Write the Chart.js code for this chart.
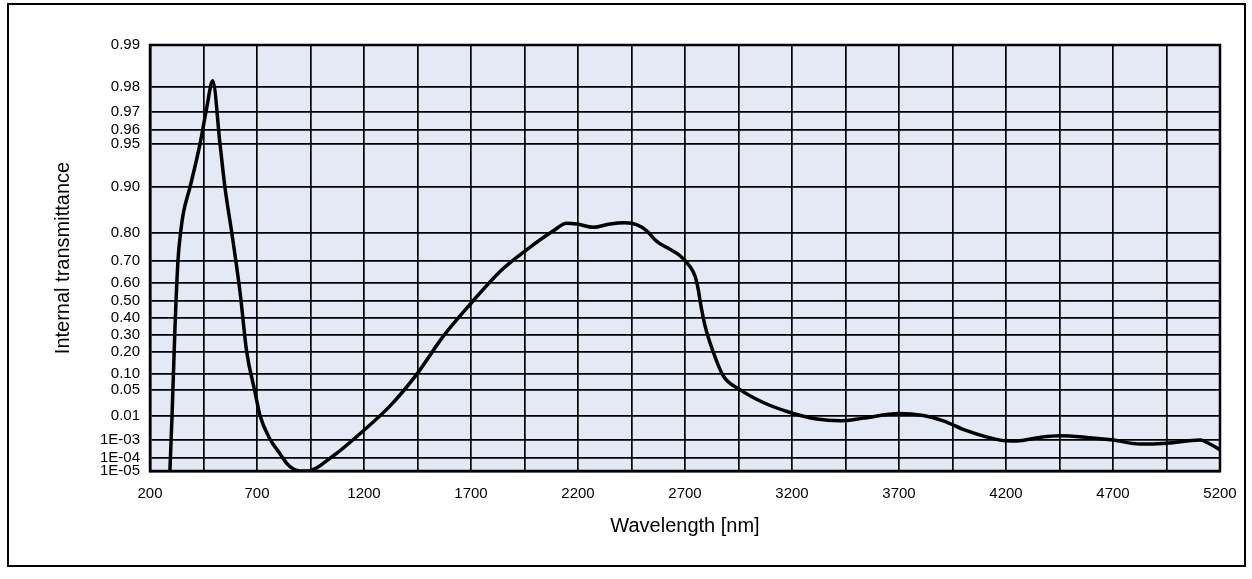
<!DOCTYPE html>
<html>
<head>
<meta charset="utf-8">
<script src="https://cdn.jsdelivr.net/npm/chart.js@4.4.1/dist/chart.umd.min.js"></script>
<style>
  html, body { margin: 0; padding: 0; background: #ffffff; }
  #wrap { position: relative; width: 1252px; height: 579px; }
  canvas { display: block; }
</style>
</head>
<body>
<div id="wrap"><canvas id="c" width="1252" height="579"></canvas></div>
<script>
// ---- data ----
const wavelengths = [293, 303, 317, 331, 343, 356, 387, 434, 465, 493, 527, 550, 582, 621, 652, 691, 714, 761, 808, 840, 870, 901, 932,
  1057, 1197, 1322, 1446, 1571, 1695, 1836, 1960, 2085, 2147, 2194, 2272, 2350, 2420, 2474, 2521, 2568, 2615, 2677,
  2723, 2747, 2762, 2772, 2794, 2832, 2879, 2957, 3066, 3191, 3316, 3424, 3533, 3697, 3814, 3907, 4016, 4172, 4250,
  4359, 4452, 4577, 4702, 4826, 4951, 5107, 5153, 5200];
const transmittance = [1e-5, 0.01, 0.35, 0.705, 0.80, 0.851, 0.90, 0.95, 0.972, 0.982, 0.95, 0.90, 0.80, 0.547, 0.20, 0.0436, 0.01, 1.1e-3, 1.7e-4, 3.8e-5, 1.46e-5, 1e-5, 1e-5,
  1.3e-4, 2.7e-3, 0.0198, 0.0975, 0.29, 0.48, 0.654, 0.743, 0.805, 0.826, 0.824, 0.815, 0.824, 0.827, 0.822, 0.805, 0.772, 0.751, 0.7206,
  0.676, 0.631, 0.5635, 0.49, 0.35, 0.20, 0.0913, 0.05, 0.0245, 0.0126, 0.0076, 0.0066, 0.0082, 0.0117, 0.0100, 0.0066, 2.7e-3, 1e-3, 9e-4,
  1.35e-3, 1.6e-3, 1.35e-3, 1e-3, 6.3e-4, 7e-4, 1e-3, 6.3e-4, 3e-4];
const yTickValues = [0.99, 0.98, 0.97, 0.96, 0.95, 0.90, 0.80, 0.70, 0.60, 0.50, 0.40, 0.30, 0.20, 0.10, 0.05, 0.01, 1e-3, 1e-4, 1e-5];
const yTickLabels = ['0.99', '0.98', '0.97', '0.96', '0.95', '0.90', '0.80', '0.70', '0.60', '0.50', '0.40', '0.30', '0.20', '0.10', '0.05', '0.01', '1E-03', '1E-04', '1E-05'];
const xMin = 200, xMax = 5200, xGridStep = 250, xLabelStep = 500;
const xTitle = 'Wavelength [nm]';
const yTitle = 'Internal transmittance';

// internal-transmittance (double log) scale transform
const tr = t => -Math.log(-Math.log(t));

const points = wavelengths.map((w, i) => ({ x: w, y: tr(transmittance[i]) }));

const FONT = '"Liberation Sans", Arial, sans-serif';

const framePlugin = {
  id: 'frame',
  beforeDraw(chart) {
    const { ctx, chartArea: a } = chart;
    ctx.save();
    ctx.fillStyle = '#e3e9f5';
    ctx.fillRect(a.left, a.top, a.right - a.left, a.bottom - a.top);
    ctx.restore();
  },
  afterDraw(chart) {
    const { ctx, chartArea: a } = chart;
    ctx.save();
    ctx.strokeStyle = '#000';
    ctx.lineWidth = 2.5;
    ctx.strokeRect(a.left, a.top, a.right - a.left, a.bottom - a.top);
    ctx.lineWidth = 2;
    ctx.strokeRect(8, 4, 1237, 562);
    ctx.restore();
  }
};

new Chart(document.getElementById('c'), {
  type: 'line',
  data: {
    datasets: [{
      data: points,
      borderColor: '#000',
      borderWidth: 3.5,
      pointRadius: 0,
      fill: false,
      cubicInterpolationMode: 'monotone'
    }]
  },
  options: {
    responsive: false,
    animation: false,
    devicePixelRatio: 1,
    layout: { padding: { left: 45, top: 45, right: 32, bottom: 30 } },
    plugins: { legend: { display: false }, tooltip: { enabled: false } },
    scales: {
      x: {
        type: 'linear',
        min: xMin, max: xMax,
        afterFit(s) { s.height = 78; },
        ticks: {
          stepSize: xGridStep,
          autoSkip: false,
          maxRotation: 0,
          padding: 14,
          color: '#000',
          font: { family: FONT, size: 15 },
          callback: v => ((v - xMin) % xLabelStep === 0 ? String(v) : '')
        },
        grid: { color: '#000', lineWidth: 1.7, drawTicks: false },
        border: { display: true, color: '#000', width: 2.5 },
        title: { display: true, text: xTitle, color: '#000', font: { family: FONT, size: 20 }, padding: { top: 0, bottom: 11 } }
      },
      y: {
        type: 'linear',
        min: tr(yTickValues[yTickValues.length - 1]),
        max: tr(yTickValues[0]),
        afterFit(s) { s.width = 105; },
        afterBuildTicks(s) { s.ticks = yTickValues.map(t => ({ value: tr(t) })); },
        ticks: {
          autoSkip: false,
          padding: 10,
          color: '#000',
          font: { family: FONT, size: 15 },
          callback: (v, i) => yTickLabels[i]
        },
        grid: { color: '#000', lineWidth: 1.7, drawTicks: false },
        border: { display: true, color: '#000', width: 2.5 },
        title: { display: true, text: yTitle, color: '#000', font: { family: FONT, size: 20 }, padding: { top: 6, bottom: 0 } }
      }
    }
  },
  plugins: [framePlugin]
});
</script>
</body>
</html>
